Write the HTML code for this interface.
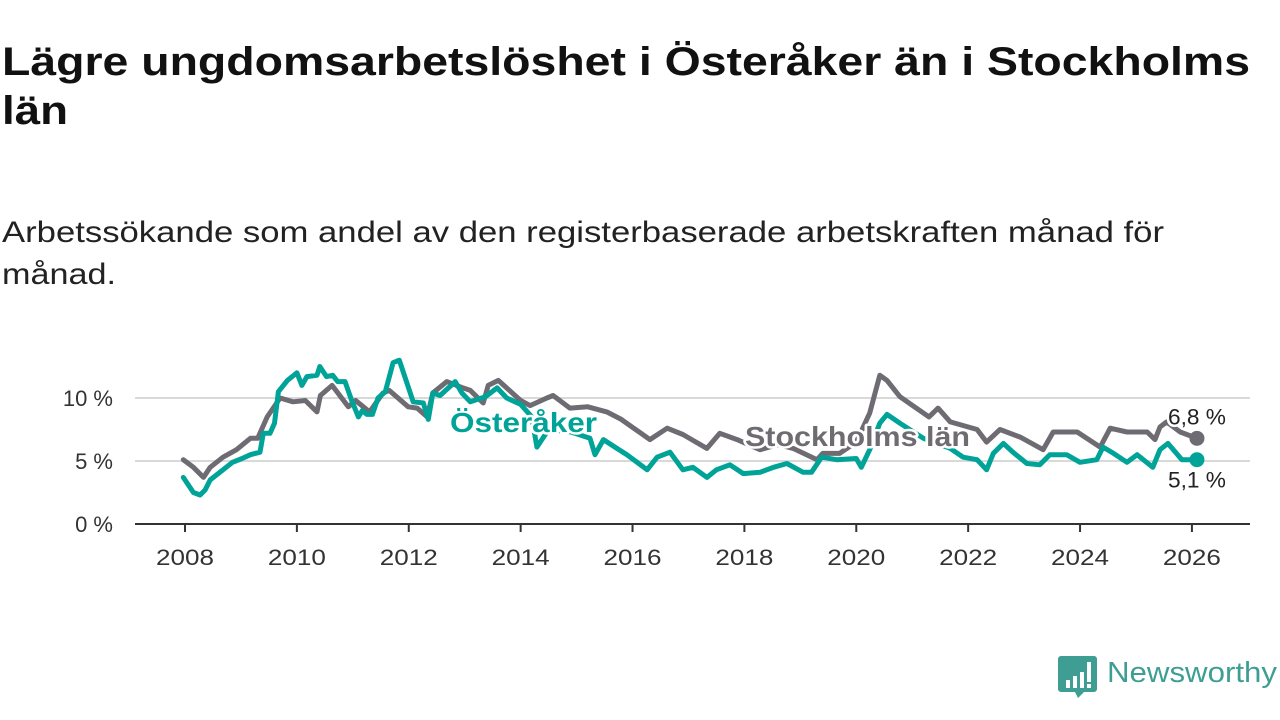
<!DOCTYPE html>
<html><head><meta charset="utf-8"><style>
html,body{margin:0;padding:0;background:#fff;width:1280px;height:720px;overflow:hidden}
svg{display:block;font-family:"Liberation Sans",sans-serif}
</style></head><body>
<svg id="chart" width="1280" height="720">
<text x="2" y="75" font-size="40" font-weight="bold" fill="#111" textLength="1248" lengthAdjust="spacingAndGlyphs">Lägre ungdomsarbetslöshet i Österåker än i Stockholms</text>
<text x="2" y="124" font-size="40" font-weight="bold" fill="#111" textLength="66" lengthAdjust="spacingAndGlyphs">län</text>
<text x="2" y="242" font-size="30" fill="#222" textLength="1162" lengthAdjust="spacingAndGlyphs">Arbetssökande som andel av den registerbaserade arbetskraften månad för</text>
<text x="2" y="284" font-size="30" fill="#222" textLength="114" lengthAdjust="spacingAndGlyphs">månad.</text>
<g id="grid"></g><g id="axes"></g><g id="series"></g><g id="labels"></g>
<g>
<path d="M1061 656 h33 a3 3 0 0 1 3 3 v30 a3 3 0 0 1 -3 3 h-10 l-6 6 l-3 -6 h-14 a3 3 0 0 1 -3 -3 v-30 a3 3 0 0 1 3 -3z" fill="#3f9e93"/>
<rect x="1066" y="680" width="4" height="8" fill="#fff"/><rect x="1073" y="676" width="4" height="12" fill="#fff"/><rect x="1080" y="672" width="4" height="16" fill="#fff"/><rect x="1087" y="662" width="4" height="20" fill="#fff"/><rect x="1087" y="684" width="4" height="4" fill="#fff"/>
<text x="1107" y="682" font-size="29" fill="#3f9e93" textLength="170" lengthAdjust="spacingAndGlyphs">Newsworthy</text>
</g>
</svg>
<script>
const yTicks=[0,5,10];
const yTickLabels=["0 %","5 %","10 %"];
const xTicks=[2008,2010,2012,2014,2016,2018,2020,2022,2024,2026];
const stockDates=[2007.97,2008.15,2008.33,2008.45,2008.68,2008.92,2009.17,2009.3,2009.47,2009.7,2009.93,2010.15,2010.36,2010.42,2010.63,2010.92,2011.05,2011.3,2011.54,2011.65,2011.99,2012.15,2012.33,2012.43,2012.68,2012.97,2013.1,2013.33,2013.42,2013.6,2014.0,2014.17,2014.47,2014.58,2014.88,2015.2,2015.54,2015.8,2016.31,2016.62,2016.9,2017.33,2017.56,2017.87,2018.28,2018.6,2018.87,2019.3,2019.4,2019.7,2020.0,2020.24,2020.42,2020.55,2020.78,2021.3,2021.46,2021.68,2022.16,2022.33,2022.57,2022.93,2023.34,2023.52,2023.95,2024.36,2024.54,2024.84,2025.2,2025.34,2025.43,2025.55,2025.79,2026.09];
const stockValues=[5.1,4.5,3.7,4.5,5.3,5.9,6.8,6.8,8.5,10.0,9.7,9.8,8.9,10.2,11.0,9.3,9.8,8.9,10.4,10.6,9.3,9.2,8.5,10.4,11.3,10.8,10.6,9.6,11.0,11.4,9.8,9.4,10.0,10.2,9.2,9.3,8.9,8.3,6.7,7.6,7.1,6.0,7.2,6.7,5.9,6.3,6.0,5.1,5.6,5.6,6.5,8.8,11.8,11.4,10.1,8.5,9.2,8.1,7.5,6.5,7.5,6.9,5.9,7.3,7.3,6.1,7.6,7.3,7.3,6.7,7.7,8.1,7.3,6.8];
const ostDates=[2007.97,2008.15,2008.27,2008.36,2008.45,2008.68,2008.85,2009.02,2009.17,2009.34,2009.4,2009.52,2009.6,2009.67,2009.83,2010.0,2010.09,2010.18,2010.36,2010.41,2010.53,2010.64,2010.73,2010.86,2010.98,2011.1,2011.17,2011.25,2011.35,2011.45,2011.58,2011.72,2011.83,2012.08,2012.26,2012.35,2012.43,2012.56,2012.83,2012.95,2013.1,2013.37,2013.58,2013.75,2014.0,2014.2,2014.29,2014.5,2014.9,2015.24,2015.33,2015.48,2015.72,2015.9,2016.26,2016.44,2016.67,2016.9,2017.08,2017.33,2017.5,2017.74,2017.98,2018.28,2018.52,2018.76,2019.05,2019.2,2019.38,2019.65,2020.0,2020.09,2020.24,2020.42,2020.55,2020.78,2021.2,2021.68,2021.91,2022.16,2022.33,2022.45,2022.63,2022.8,2023.05,2023.28,2023.46,2023.76,2024.0,2024.3,2024.41,2024.6,2024.84,2025.02,2025.3,2025.43,2025.57,2025.82,2026.09];
const ostValues=[3.7,2.5,2.3,2.7,3.5,4.3,4.9,5.2,5.5,5.7,7.2,7.2,8.0,10.5,11.4,12.0,11.0,11.7,11.8,12.5,11.7,11.8,11.3,11.3,9.8,8.5,9.0,8.7,8.7,10.0,10.5,12.8,13.0,9.7,9.6,8.3,10.4,10.2,11.3,10.4,9.7,10.1,10.8,10.0,9.5,8.5,6.1,7.5,7.3,6.8,5.5,6.7,6.0,5.5,4.3,5.3,5.7,4.3,4.5,3.7,4.3,4.7,4.0,4.1,4.5,4.8,4.1,4.1,5.3,5.1,5.2,4.5,5.9,8.0,8.7,8.0,6.8,6.0,5.3,5.1,4.3,5.6,6.4,5.7,4.8,4.7,5.5,5.5,4.9,5.1,6.1,5.6,4.9,5.5,4.5,5.9,6.4,5.1,5.1];
const X=y=>185+(y-2008)*55.94, Y=v=>524-v*12.6;
const NS="http://www.w3.org/2000/svg";
function mk(t,p,a){const e=document.createElementNS(NS,t);for(const k in a)e.setAttribute(k,a[k]);p.appendChild(e);return e;}
const grid=document.getElementById('grid'),axes=document.getElementById('axes'),ser=document.getElementById('series'),lab=document.getElementById('labels');
yTicks.forEach((v,i)=>{
 if(v>0){const g=mk('line',grid,{x1:135,x2:1250,y1:Y(v),y2:Y(v),stroke:'#d9d9d9','stroke-width':2});
 
 }
 const t=mk('text',axes,{x:113,y:Y(v)+8,'text-anchor':'end','font-size':22,fill:'#333'});t.textContent=yTickLabels[i];
 
 
});
const ax=mk('line',axes,{x1:135,x2:1250,y1:524,y2:524,stroke:'#333','stroke-width':2});


xTicks.forEach(y=>{
 const tk=mk('line',axes,{x1:X(y),x2:X(y),y1:524,y2:532,stroke:'#333','stroke-width':2});
 
 
 const t=mk('text',axes,{x:X(y),y:565,'text-anchor':'middle','font-size':22,fill:'#333',textLength:58,lengthAdjust:'spacingAndGlyphs'});t.textContent=y;
 
 
});
function line(d,v,c,name){
 const pts=d.map((x,i)=>X(x).toFixed(1)+','+Y(v[i]).toFixed(1)).join(' ');
 const p=mk('polyline',ser,{points:pts,fill:'none',stroke:c,'stroke-width':5,'stroke-linejoin':'round','stroke-linecap':'round'});
 
 
 const n=d.length-1;
 const c2=mk('circle',ser,{cx:X(d[n]),cy:Y(v[n]),r:7.5,fill:c});
 
 
 return [X(d[n]),Y(v[n]),v[n]];
}
const gs=line(stockDates,stockValues,'#6e6c72','stockholm');
const os=line(ostDates,ostValues,'#00a398','osteraker');
function txt(x,y,s,c,sz,w,anchor,name,halo,len){
 const t=mk('text',lab,{x:x,y:y,'font-size':sz,'font-weight':w,fill:c,'text-anchor':anchor});
 if(len){t.setAttribute('textLength',len);t.setAttribute('lengthAdjust','spacingAndGlyphs');}
 if(halo){t.setAttribute('stroke','#fff');t.setAttribute('stroke-width',5);t.setAttribute('paint-order','stroke');t.setAttribute('stroke-linejoin','round');}
 t.textContent=s;
 
 
}
txt(450,432,'Österåker','#00a398',28,'bold','start','osteraker-label',true,147);
txt(745,446,'Stockholms län','#6e6c72',28,'bold','start','stockholm-label',true,225);
txt(gs[0],gs[1]-14,gs[2].toFixed(1).replace('.',',')+' %','#222',22,'normal','middle','stockholm-end-value',true,58);
txt(os[0],os[1]+28,os[2].toFixed(1).replace('.',',')+' %','#222',22,'normal','middle','osteraker-end-value',true,58);
</script>
</body></html>
